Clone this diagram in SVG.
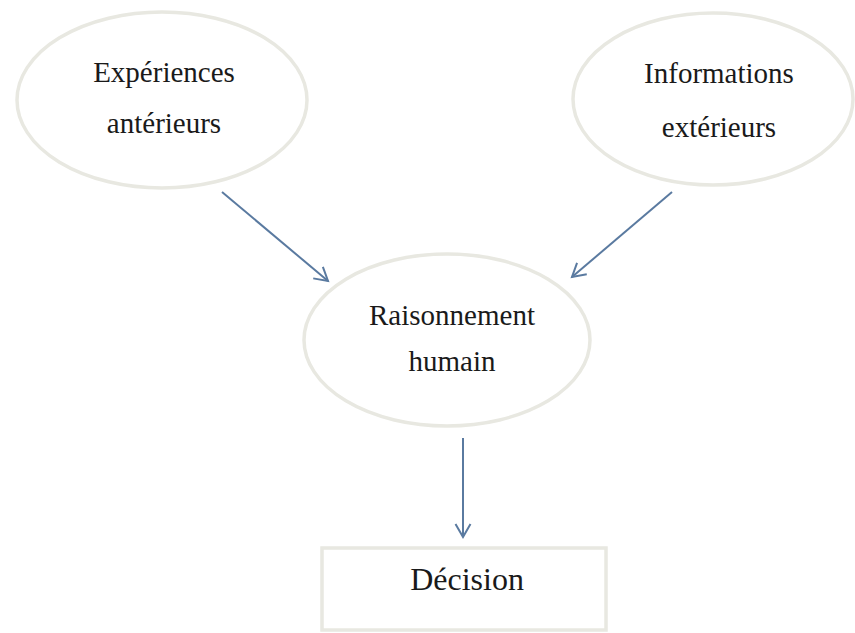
<svg xmlns="http://www.w3.org/2000/svg" width="855" height="633" viewBox="0 0 855 633">
<style>
.node{fill:#ffffff;stroke:#e8e8e1;stroke-width:3.5}
.lbl{font-family:"Liberation Serif","Times New Roman",serif;font-size:29px;fill:#1a1a1a;text-anchor:middle}
.conn{stroke:#5a7aa0;stroke-width:2;fill:none}
</style>
<defs>
<marker id="arr" markerWidth="22" markerHeight="22" refX="15" refY="9" orient="auto" markerUnits="userSpaceOnUse">
<path d="M2,1.5 L15,9 L2,16.5" fill="none" stroke="#5a7aa0" stroke-width="2"/>
</marker>
</defs>
<rect width="855" height="633" fill="#ffffff"/>
<g id="exp">
<ellipse class="node" cx="162" cy="100" rx="145" ry="88"/>
<text class="lbl" x="164" y="82">Expériences</text>
<text class="lbl" x="164" y="133">antérieurs</text>
</g>
<g id="info">
<ellipse class="node" cx="713" cy="99" rx="140" ry="86"/>
<text class="lbl" x="719" y="83">Informations</text>
<text class="lbl" x="719" y="137">extérieurs</text>
</g>
<g id="raison">
<ellipse class="node" cx="447" cy="340" rx="143" ry="86"/>
<text class="lbl" x="452" y="325">Raisonnement</text>
<text class="lbl" x="452" y="371">humain</text>
</g>
<g id="decision">
<rect class="node" x="322" y="548" width="284" height="82" stroke-width="3" fill="#fefefa"/>
<text class="lbl" x="467" y="590" style="font-size:32px">Décision</text>
</g>
<g id="connectors">
<line class="conn" x1="222" y1="192" x2="328" y2="281" marker-end="url(#arr)"/>
<line class="conn" x1="672" y1="192" x2="572" y2="277" marker-end="url(#arr)"/>
<line class="conn" x1="463" y1="438" x2="463" y2="537" marker-end="url(#arr)"/>
</g>
</svg>
